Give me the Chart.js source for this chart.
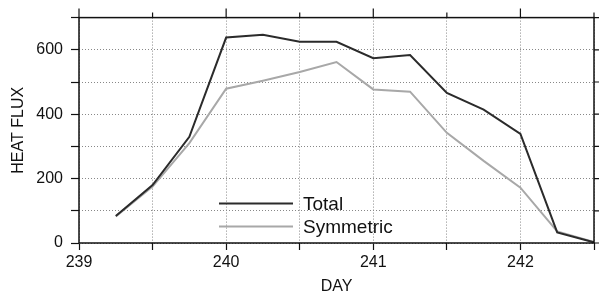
<!DOCTYPE html>
<html>
<head>
<meta charset="utf-8">
<script src="https://cdn.jsdelivr.net/npm/chart.js@4"></script>
<style>
  html, body { margin: 0; padding: 0; background: #fff; }
  #wrap { width: 599px; height: 296px; }
</style>
</head>
<body>
<div id="wrap"><canvas id="heatChart" width="599" height="296"></canvas></div>
<script>
// days (every 6 hours)
const days = [239.25, 239.5, 239.75, 240, 240.25, 240.5, 240.75, 241, 241.25, 241.5, 241.75, 242, 242.25, 242.5];
const totalFlux = [84, 180, 330, 638, 647, 625, 625, 574, 584, 466, 414, 339, 33, 2];
const symmetricFlux = [82, 175, 310, 479, 504, 531, 562, 477, 470, 342, 255, 172, 36, 3];
const seriesNames = ["Total", "Symmetric"];

function toPoints(xs, ys) {
  return xs.map(function(x, i) { return { x: x, y: ys[i] }; });
}

// frame, top/right ticks and the little legend inside the plot
const framePlugin = {
  id: 'frame',
  afterDraw: function(chart) {
    const ctx = chart.ctx;
    const a = chart.chartArea;
    const xs = chart.scales.x, ys = chart.scales.y;
    ctx.save();
    ctx.strokeStyle = '#111';
    ctx.lineWidth = 1.5;
    ctx.strokeRect(a.left, a.top, a.right - a.left, a.bottom - a.top);
    ctx.lineWidth = 1.2;
    ctx.beginPath();
    xs.ticks.forEach(function(t) {
      const px = xs.getPixelForValue(t.value);
      ctx.moveTo(px, a.top);
      ctx.lineTo(px, a.top - (Number.isInteger(t.value) ? 9 : 5));
    });
    ys.ticks.forEach(function(t) {
      const py = ys.getPixelForValue(t.value);
      ctx.moveTo(a.right, py);
      ctx.lineTo(a.right + 5, py);
    });
    ctx.stroke();

    // legend
    const lx0 = a.left + 140, lx1 = a.left + 214, ly = a.top + 186;
    ctx.font = '19px "Liberation Sans", Arial, sans-serif';
    ctx.textBaseline = 'middle';
    chart.data.datasets.forEach(function(ds, i) {
      const y = ly + i * 23;
      ctx.strokeStyle = ds.borderColor;
      ctx.lineWidth = ds.borderWidth;
      ctx.beginPath();
      ctx.moveTo(lx0, y);
      ctx.lineTo(lx1, y);
      ctx.stroke();
      ctx.fillStyle = '#111';
      ctx.fillText(ds.label, lx1 + 10, y + 1);
    });
    ctx.restore();
  }
};

const ctx = document.getElementById('heatChart').getContext('2d');
const chart = new Chart(ctx, {
  type: 'line',
  data: {
    datasets: [{
      label: seriesNames[0],
      data: toPoints(days, totalFlux),
      borderColor: '#2b2b2b',
      borderWidth: 2,
      pointRadius: 0,
      tension: 0
    }, {
      label: seriesNames[1],
      data: toPoints(days, symmetricFlux),
      borderColor: '#a8a8a8',
      borderWidth: 2,
      pointRadius: 0,
      tension: 0
    }]
  },
  options: {
    responsive: false,
    animation: false,
    layout: { padding: { top: 14, right: 5, left: 0, bottom: 0 } },
    plugins: { legend: { display: false }, tooltip: { enabled: false } },
    scales: {
      x: {
        type: 'linear',
        min: 239,
        max: 242.5,
        afterFit: function(s) { s.height = 53; },
        ticks: {
          stepSize: 0.5,
          color: '#111',
          padding: 3,
          font: { family: '"Liberation Sans", Arial, sans-serif', size: 16 },
          callback: function(v) { return Number.isInteger(v) ? String(v) : ''; }
        },
        grid: { color: '#888', lineWidth: 1, tickLength: 7, tickColor: '#111', tickWidth: 1.2 },
        border: { display: false, dash: [1, 2] },
        title: {
          display: true, text: 'DAY', color: '#111', padding: { top: 2, bottom: 0 },
          font: { family: '"Liberation Sans", Arial, sans-serif', size: 16 }
        }
      },
      y: {
        min: 0,
        max: 700,
        afterFit: function(s) { s.width = 79; },
        ticks: {
          stepSize: 100,
          color: '#111',
          padding: 8,
          font: { family: '"Liberation Sans", Arial, sans-serif', size: 16 },
          callback: function(v) { return v % 200 === 0 ? String(v) : ''; }
        },
        grid: { color: '#888', lineWidth: 1, tickLength: 8, tickColor: '#111', tickWidth: 1.2 },
        border: { display: false, dash: [1, 2] },
        title: {
          display: true, text: 'HEAT FLUX', color: '#111', padding: { top: 9, bottom: 2 },
          font: { family: '"Liberation Sans", Arial, sans-serif', size: 16 }
        }
      }
    }
  },
  plugins: [framePlugin]
});
</script>
</body>
</html>
